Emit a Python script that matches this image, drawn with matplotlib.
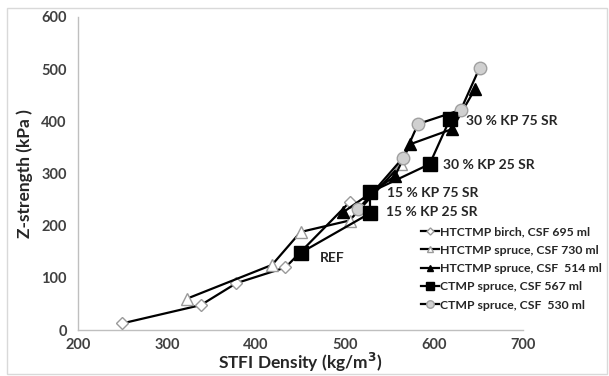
import matplotlib
matplotlib.use("Agg")
import matplotlib.pyplot as plt
from matplotlib.patches import Rectangle

plt.rcParams['font.family'] = ['Lato', 'DejaVu Sans']

# Data
birch_x = [250, 338, 378, 433, 505]
birch_y = [13, 48, 90, 120, 245]
spruce730_x = [322, 418, 450, 505, 563]
spruce730_y = [60, 125, 188, 210, 318]
spruce514_x = [498, 556, 573, 620, 646]
spruce514_y = [226, 295, 356, 385, 462]
ctmp567_x = [450, 528, 528, 595, 618]
ctmp567_y = [148, 224, 264, 318, 405]
ctmp530_x = [515, 565, 582, 630, 651]
ctmp530_y = [232, 330, 395, 422, 502]

labels = ["HTCTMP birch, CSF 695 ml", "HTCTMP spruce, CSF 730 ml",
          "HTCTMP spruce, CSF  514 ml", "CTMP spruce, CSF 567 ml",
          "CTMP spruce, CSF  530 ml"]

annot_text = ["REF", "15 % KP 25 SR", "15 % KP 75 SR", "30 % KP 25 SR", "30 % KP 75 SR"]
annot_x = [472, 546, 547, 610, 636]
annot_y = [139, 226, 262, 317, 400]

fig = plt.figure(figsize=(6.09, 3.76), dpi=100)
ax = fig.add_axes([0.128, 0.122, 0.731, 0.833])

lw = 1.6
ax.plot(birch_x, birch_y, color='black', lw=lw, marker='D', ms=6,
        mfc='white', mec='#9a9a9a', mew=1.0, label=labels[0], zorder=3)
ax.plot(spruce730_x, spruce730_y, color='black', lw=lw, marker='^', ms=8,
        mfc='white', mec='#9a9a9a', mew=1.0, label=labels[1], zorder=3)
ax.plot(spruce514_x, spruce514_y, color='black', lw=lw, marker='^', ms=8,
        mfc='black', mec='black', label=labels[2], zorder=4)
ax.plot(ctmp567_x, ctmp567_y, color='black', lw=lw, marker='s', ms=10,
        mfc='black', mec='black', label=labels[3], zorder=5)
ax.plot(ctmp530_x, ctmp530_y, color='black', lw=lw, marker='o', ms=9,
        mfc='#d0d0d0', mec='#a0a0a0', mew=1.0, label=labels[4], zorder=4)

for t, x, y in zip(annot_text, annot_x, annot_y):
    ax.text(x, y, t, fontsize=10, fontweight='bold', color='#262626',
            ha='left', va='center', zorder=6)

ax.set_xlim(200, 700)
ax.set_ylim(0, 600)
ax.set_xticks([200, 300, 400, 500, 600, 700])
ax.set_yticks([0, 100, 200, 300, 400, 500, 600])
for s in ['top', 'right']:
    ax.spines[s].set_visible(False)
for s in ['left', 'bottom']:
    ax.spines[s].set_color('#bfbfbf')
    ax.spines[s].set_linewidth(1.0)
ax.tick_params(length=0, labelsize=10.5, labelcolor='#404040')
ax.tick_params(axis='x', pad=6)
ax.tick_params(axis='y', pad=8)
for lab in ax.get_xticklabels() + ax.get_yticklabels():
    lab.set_fontweight('bold')

ax.set_xlabel("STFI Density (kg/m$^\\mathbf{3}$)", fontsize=12.5, fontweight='bold',
              color='#262626', labelpad=-1)
ax.set_ylabel("Z-strength (kPa )", fontsize=12.5, fontweight='bold',
              color='#262626', labelpad=6)

leg = fig.legend(loc='upper left', bbox_to_anchor=(0.683, 0.411), frameon=False,
                 fontsize=8.8, handlelength=1.5, handletextpad=0.1,
                 labelspacing=0.6, borderaxespad=0, markerscale=0.6)
for txt in leg.get_texts():
    txt.set_fontweight('bold')
    txt.set_color('#262626')

fig.patches.append(Rectangle((0.011, 0.004), 0.985, 0.975, transform=fig.transFigure,
                             fill=False, edgecolor='#d9d9d9', lw=1.0))

fig.savefig("out.png", dpi=100)
